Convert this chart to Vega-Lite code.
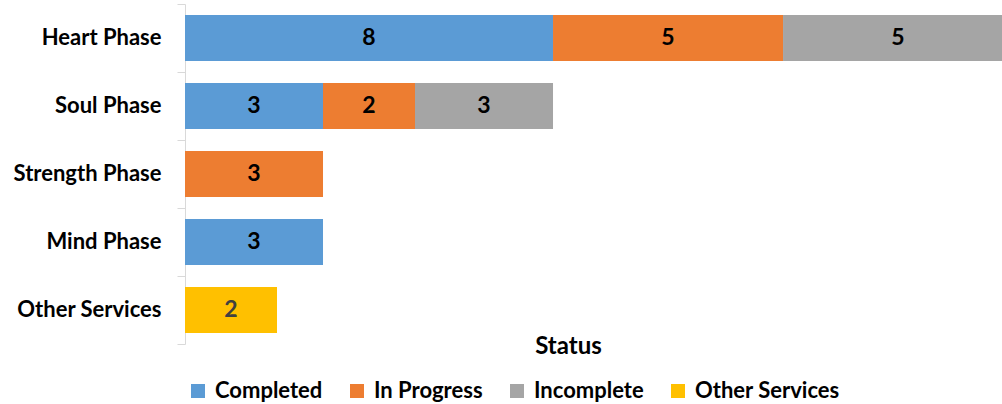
{
  "$schema": "https://vega.github.io/schema/vega-lite/v6.json",
  "width": 817,
  "height": 340,
  "autosize": "none",
  "padding": {"left": 185, "top": 4, "right": 0, "bottom": 60},
  "background": "white",
  "config": {
    "view": {"stroke": null},
    "font": "Lato"
  },
  "data": {
    "values": [
      {"phase": "Heart Phase", "status": "Completed", "value": 8},
      {"phase": "Heart Phase", "status": "In Progress", "value": 5},
      {"phase": "Heart Phase", "status": "Incomplete", "value": 5},
      {"phase": "Soul Phase", "status": "Completed", "value": 3},
      {"phase": "Soul Phase", "status": "In Progress", "value": 2},
      {"phase": "Soul Phase", "status": "Incomplete", "value": 3},
      {"phase": "Strength Phase", "status": "In Progress", "value": 3},
      {"phase": "Mind Phase", "status": "Completed", "value": 3},
      {"phase": "Other Services", "status": "Other Services", "value": 2}
    ]
  },
  "encoding": {
    "y": {
      "field": "phase",
      "type": "nominal",
      "sort": ["Heart Phase", "Soul Phase", "Strength Phase", "Mind Phase", "Other Services"],
      "scale": {"paddingInner": 0, "paddingOuter": 0},
      "axis": {
        "title": null,
        "bandPosition": 1,
        "tickExtra": true,
        "domainColor": "#D9D9D9",
        "tickColor": "#D9D9D9",
        "tickSize": 8,
        "labelPadding": 16,
        "labelFont": "Lato",
        "labelFontWeight": "bold",
        "labelFontSize": 22,
        "labelColor": "#000000"
      }
    }
  },
  "layer": [
    {
      "mark": {"type": "bar", "height": {"band": 0.676}, "clip": true},
      "encoding": {
        "x": {
          "field": "value",
          "type": "quantitative",
          "stack": "zero",
          "scale": {"domain": [0, 17.76], "nice": false, "zero": true},
          "axis": {
            "title": "Status",
            "labels": false,
            "ticks": false,
            "domain": false,
            "grid": false,
            "titleFont": "Lato",
            "titleFontWeight": "bold",
            "titleFontSize": 24,
            "titleColor": "#000000",
            "titleX": 383,
            "titleY": 9,
            "titleAlign": "center",
            "titleBaseline": "alphabetic"
          }
        },
        "color": {
          "field": "status",
          "type": "nominal",
          "scale": {
            "domain": ["Completed", "In Progress", "Incomplete", "Other Services"],
            "range": ["#5B9BD5", "#ED7D31", "#A5A5A5", "#FFC000"]
          },
          "legend": {
            "title": null,
            "orient": "none",
            "direction": "horizontal",
            "legendX": 2,
            "legendY": 376,
            "symbolType": "square",
            "symbolSize": 196,
            "symbolStrokeWidth": 0,
            "symbolOpacity": 1,
            "labelFont": "Lato",
            "labelFontWeight": "bold",
            "labelFontSize": 22,
            "labelColor": "#000000",
            "columnPadding": 23,
            "labelOffset": 6
          }
        },
        "order": {"field": "status", "type": "nominal", "sort": "ascending"}
      }
    },
    {
      "transform": [
        {"stack": "value", "groupby": ["phase"], "sort": [{"field": "status", "order": "ascending"}], "as": ["x0", "x1"]},
        {"fold": ["x0", "x1"], "as": ["edge", "pos"]},
        {"aggregate": [{"op": "mean", "field": "pos", "as": "mid"}], "groupby": ["phase", "status", "value"]}
      ],
      "mark": {"type": "text", "font": "Lato", "fontWeight": "bold", "fontSize": 23, "align": "center", "baseline": "middle"},
      "encoding": {
        "x": {"field": "mid", "type": "quantitative"},
        "text": {"field": "value", "type": "quantitative"},
        "color": {
          "condition": {"test": "datum.status === 'Other Services'", "value": "#404040"},
          "value": "#000000"
        }
      }
    }
  ]
}
